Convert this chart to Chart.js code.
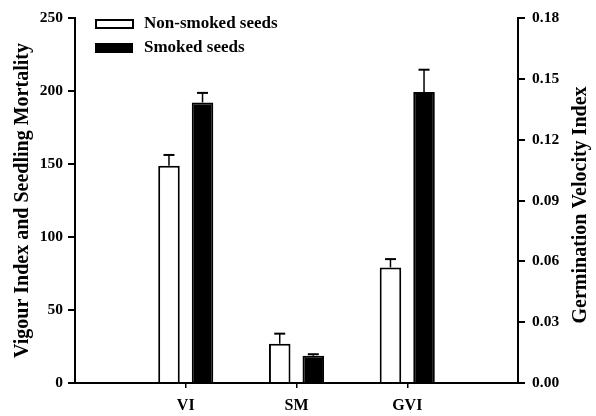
<!DOCTYPE html>
<html><head><meta charset="utf-8">
<script src="https://cdn.jsdelivr.net/npm/chart.js@4"></script>
<style>html,body{margin:0;padding:0;background:#fff}#wrap{width:596px;height:416px}</style>
</head><body><div id="wrap"><canvas id="c" width="596" height="416"></canvas></div>
<script>
// ---- data ----
const categories = ['VI', 'SM', 'GVI'];
const seriesNames = ['Non-smoked seeds', 'Smoked seeds'];
const nonSmoked = [148.8, 26.9, 0.057];
const smoked = [192.2, 18.7, 0.1435];
const nonSmokedErr = [7.4, 6.9, 0.0041];
const smokedErr = [6.5, 1.0, 0.011];
const rightAxisCategories = ['GVI'];
const leftTicks = [0, 50, 100, 150, 200, 250];
const rightTicks = [0, 0.03, 0.06, 0.09, 0.12, 0.15, 0.18];
const leftTitle = 'Vigour Index and Seedling Mortality';
const rightTitle = 'Germination Velocity Index';

const FONT = "'Liberation Serif', 'Times New Roman', serif";
const labels = ['', ...categories, ''];

function pick(values, onRight) {
  return labels.map(l => {
    const i = categories.indexOf(l);
    if (i < 0) return null;
    return (rightAxisCategories.includes(l) === onRight) ? values[i] : null;
  });
}
function pickErr(errs) {
  return labels.map(l => { const i = categories.indexOf(l); return i < 0 ? null : errs[i]; });
}

const styles = [
  {bg: '#ffffff', border: '#000000', stack: 'ns'},
  {bg: '#000000', border: '#000000', stack: 's'}
];
const seriesVals = [nonSmoked, smoked];
const seriesErrs = [nonSmokedErr, smokedErr];

const datasets = [];
[false, true].forEach(onRight => {
  seriesVals.forEach((vals, s) => {
    datasets.push({
      label: seriesNames[s],
      data: pick(vals, onRight),
      errorValues: pickErr(seriesErrs[s]),
      yAxisID: onRight ? 'y2' : 'y',
      stack: styles[s].stack,
      backgroundColor: styles[s].bg,
      borderColor: styles[s].border,
      borderWidth: 2,
      borderSkipped: 'start',
      categoryPercentage: 0.606,
      barPercentage: 0.642,
      skipNull: true
    });
  });
});

const errorBars = {
  id: 'errorBars',
  afterDatasetsDraw(chart) {
    const ctx = chart.ctx;
    ctx.save();
    ctx.strokeStyle = '#000';
    chart.data.datasets.forEach((ds, di) => {
      const meta = chart.getDatasetMeta(di);
      const yScale = chart.scales[ds.yAxisID];
      meta.data.forEach((el, i) => {
        const v = ds.data[i], e = ds.errorValues[i];
        if (v == null || e == null) return;
        const top = yScale.getPixelForValue(v + e);
        ctx.lineWidth = 1.5;
        ctx.beginPath();
        ctx.moveTo(el.x, el.y);
        ctx.lineTo(el.x, top);
        ctx.stroke();
        ctx.lineWidth = 2;
        ctx.beginPath();
        ctx.moveTo(el.x - 5.5, top);
        ctx.lineTo(el.x + 5.5, top);
        ctx.stroke();
      });
    });
    ctx.restore();
  }
};

const extras = {
  id: 'extras',
  afterDraw(chart) {
    const ctx = chart.ctx;
    ctx.save();
    // legend
    ctx.fillStyle = '#fff';
    ctx.strokeStyle = '#000';
    ctx.lineWidth = 2;
    ctx.fillRect(96, 20, 37, 8);
    ctx.strokeRect(96, 20, 37, 8);
    ctx.fillStyle = '#000';
    ctx.fillRect(95, 43, 38, 10);
    ctx.font = 'bold 17px ' + FONT;
    ctx.textBaseline = 'middle';
    ctx.textAlign = 'left';
    ctx.fillText(seriesNames[0], 144, 24);
    ctx.fillText(seriesNames[1], 144, 48);
    // right title
    ctx.font = 'bold 20px ' + FONT;
    ctx.translate(581, 205);
    ctx.rotate(-Math.PI / 2);
    ctx.textAlign = 'center';
    ctx.fillText(rightTitle, 0, 0);
    ctx.restore();
  }
};

const tickFont = {family: FONT, size: 15.5, weight: 'bold'};

new Chart(document.getElementById('c'), {
  type: 'bar',
  data: {labels, datasets},
  options: {
    responsive: false,
    animation: false,
    devicePixelRatio: 1,
    layout: {padding: {top: 18, left: 0, right: 0, bottom: 0}},
    plugins: {legend: {display: false}, tooltip: {enabled: false}},
    scales: {
      x: {
        type: 'category',
        offset: false,
        grid: {offset: false, drawOnChartArea: false, drawTicks: true, tickLength: 5, color: '#000', lineWidth: 1.5},
        border: {display: true, color: '#000', width: 2},
        ticks: {font: {family: FONT, size: 16, weight: 'bold'}, color: '#000', padding: 8, autoSkip: false, maxRotation: 0},
        afterBuildTicks: s => { s.ticks = s.ticks.filter(t => t.value >= 1 && t.value <= categories.length); },
        afterFit: s => { s.height = 33; }
      },
      y: {
        position: 'left',
        min: 0, max: 250,
        grid: {drawOnChartArea: false, drawTicks: true, tickLength: 7, color: '#000', lineWidth: 2},
        border: {display: true, color: '#000', width: 2},
        ticks: {font: tickFont, color: '#000', padding: 5},
        afterBuildTicks: s => { s.ticks = leftTicks.map(v => ({value: v})); },
        title: {display: true, text: leftTitle, color: '#000', font: {family: FONT, size: 20, weight: 'bold'}, padding: {top: 11, bottom: 0}},
        afterFit: s => { s.width = 75; }
      },
      y2: {
        position: 'right',
        min: 0, max: 0.18,
        grid: {drawOnChartArea: false, drawTicks: true, tickLength: 7, color: '#000', lineWidth: 2},
        border: {display: true, color: '#000', width: 2},
        ticks: {font: tickFont, color: '#000', padding: 7, callback: v => Number(v).toFixed(2)},
        afterBuildTicks: s => { s.ticks = rightTicks.map(v => ({value: v})); },
        afterFit: s => { s.width = 78; }
      }
    }
  },
  plugins: [errorBars, extras]
});
</script>
</body></html>
